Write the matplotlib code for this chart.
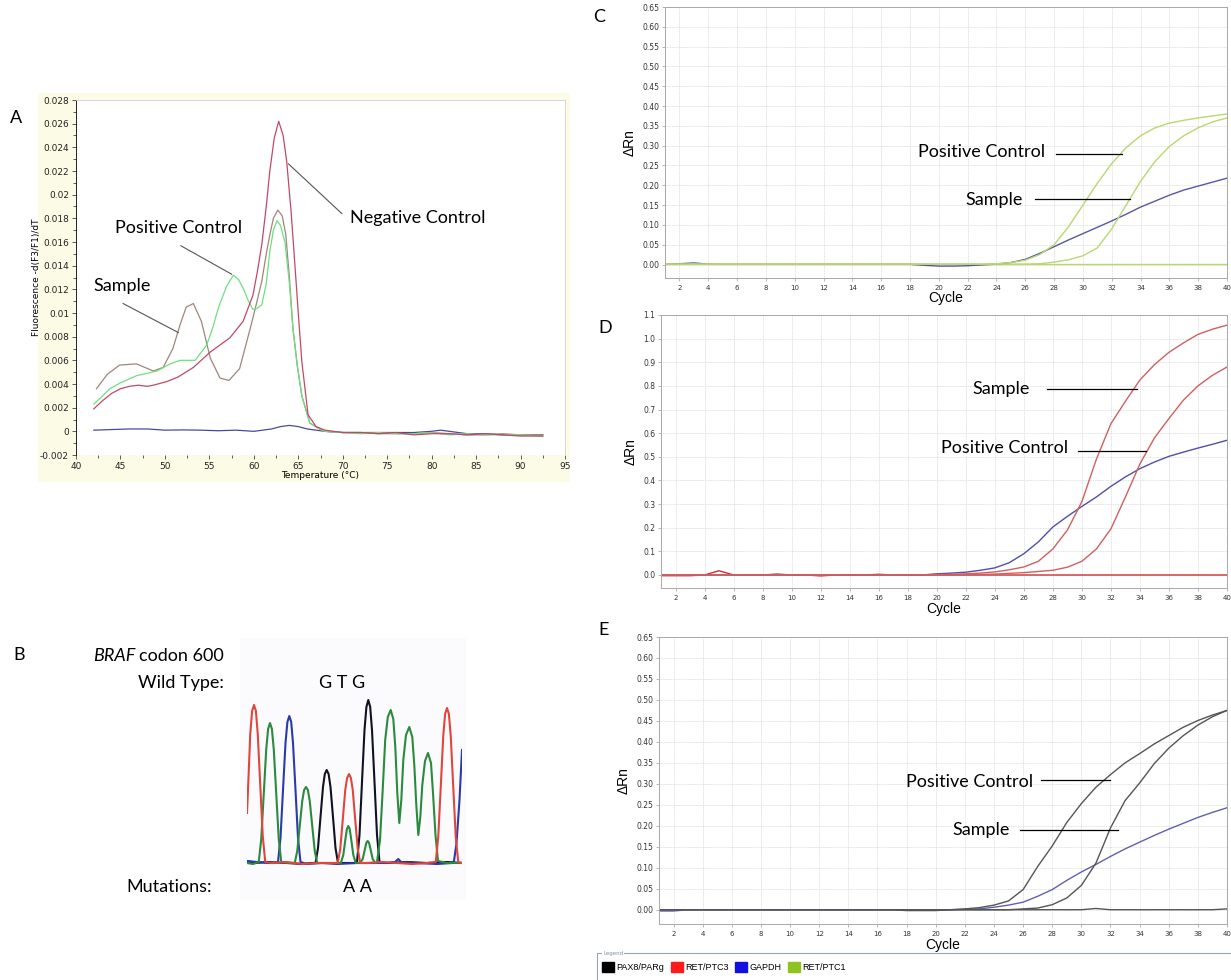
import matplotlib
matplotlib.use("Agg")
import matplotlib.pyplot as plt
import numpy as np
from matplotlib.patches import Patch, Rectangle
from matplotlib.ticker import FormatStrFormatter, MultipleLocator

# ---------------- panel A : melting curves ----------------
neg_T = [42, 43, 44, 45, 46, 47, 48, 48.7, 50.2, 51.5, 53.2, 55.1, 57.3, 58.8, 59.9, 60.4, 60.9, 61.4,
         61.8, 62.3, 62.8, 63.3, 63.7, 64.2, 64.6, 65.0, 65.4, 66.1, 67.0, 68, 70, 72, 74, 76, 78, 80,
         82, 84, 86, 88, 90, 92.5]
neg_v = [0.0019, 0.0026, 0.0032, 0.0036, 0.0038, 0.0039, 0.0038, 0.0039, 0.0042, 0.0046, 0.0054, 0.0067,
         0.0079, 0.0093, 0.0115, 0.0135, 0.0158, 0.0190, 0.0220, 0.0248, 0.0262, 0.0250, 0.0228, 0.0185,
         0.0143, 0.0100, 0.0059, 0.0014, 0.0004, 0.0001, -0.0001, -0.0001, -0.0002, -0.0001, -0.0003,
         -0.0002, -0.0002, -0.0003, -0.0002, -0.0003, -0.0004, -0.0004]

pos_T = [42, 43, 43.8, 45, 46.8, 48, 49.1, 50.6, 51.7, 53.4, 54.7, 55.4, 56.0, 56.9, 57.7, 58.3, 58.8,
         59.4, 59.9, 60.4, 60.9, 61.4, 61.8, 62.2, 62.6, 63.0, 63.5, 64.0, 64.4, 64.9, 65.4, 66.3, 67.4,
         68, 70, 72, 74, 76, 78, 80, 82, 84, 86, 88, 90, 92.5]
pos_v = [0.0023, 0.0030, 0.0036, 0.0041, 0.0047, 0.0049, 0.0051, 0.0057, 0.0060, 0.0060, 0.0073, 0.0088,
         0.0104, 0.0122, 0.0132, 0.0128, 0.0121, 0.0110, 0.0103, 0.0104, 0.0107, 0.0125, 0.0152, 0.0170,
         0.0178, 0.0174, 0.0160, 0.0125, 0.0087, 0.0055, 0.0030, 0.0007, 0.0002, 0.0000, -0.0001, -0.0002,
         -0.0001, -0.0002, -0.0002, -0.0001, -0.0003, -0.0002, -0.0003, -0.0003, -0.0003, -0.0004]

smp_T = [42.3, 43.5, 44.9, 46.8, 48.7, 49.8, 50.9, 51.7, 52.4, 53.2, 54.1, 55.1, 56.2, 57.2, 58.4, 59.6,
         60.3, 60.9, 61.4, 61.8, 62.2, 62.7, 63.2, 63.6, 64.0, 64.4, 64.9, 65.4, 66.3, 67.4, 68, 70, 72,
         74, 76, 78, 80, 82, 84, 86, 88, 90, 92.5]
smp_v = [0.0036, 0.0048, 0.0056, 0.0057, 0.0051, 0.0054, 0.0070, 0.0090, 0.0105, 0.0108, 0.0093, 0.0062,
         0.0045, 0.0043, 0.0053, 0.0087, 0.0108, 0.0127, 0.0150, 0.0166, 0.0180, 0.0187, 0.0182, 0.0166,
         0.0130, 0.0087, 0.0055, 0.0030, 0.0007, 0.0002, 0.0000, -0.0001, -0.0001, -0.0002, -0.0002,
         -0.0002, -0.0001, -0.0002, -0.0003, -0.0003, -0.0002, -0.0003, -0.0003]

blank_T = [42, 44, 46, 48, 50, 52, 54, 56, 58, 60, 62, 63, 64, 65, 66, 67, 68, 70, 72, 75, 78, 80, 81,
           82, 84, 86, 88, 90, 92.5]
blank_v = [0.0001, 0.00015, 0.0002, 0.0002, 0.0001, 0.00012, 0.0001, 0.00005, 0.0001, 0.0, 0.0002,
           0.0004, 0.0005, 0.0004, 0.0002, 0.0001, 0.0, -0.0001, -0.0001, -0.0001, -0.0001, 0.0, 0.0001,
           0.0, -0.0002, -0.0002, -0.0003, -0.0003, -0.0003]

# ---------------- panel B : sequencing trace ----------------
red_x = [0, 1, 3.25, 5.1, 7, 8.9, 10.75, 13.25, 15.75, 18.25, 25, 40, 55, 70, 85, 90.75, 93.25, 95.75,
         98.25, 100.1, 102, 103.9, 105.75, 108.25, 110.75, 113.25, 120, 135, 150, 165, 180, 188.75,
         191.25, 193.75, 196.25, 198.1, 200, 201.9, 203.75, 206.25, 208.75, 211.25, 215]
red_y = [52, 75, 131, 154, 160, 154, 131, 80, 29, 3, 2, 3, 1, 2, 2, 2, 16, 45, 75, 87, 91, 87, 75, 45, 16,
         2, 2, 3, 2, 1, 2, 3, 28, 78, 129, 151, 157, 151, 129, 78, 28, 3, 2]
green_x = [0, 6, 11.75, 14.25, 16.75, 19.25, 21.1, 23, 24.9, 26.75, 29.25, 31.75, 34.25, 40, 47.75, 50.25,
           52.75, 55.25, 57.1, 59, 60.9, 62.75, 65.25, 67.75, 70.25, 80, 93.8, 96.3, 98.3, 99.9, 101.3,
           102.7, 104.3, 106.3, 108.8, 113.2, 115.7, 117.7, 119.3, 120.7, 122.1, 123.7, 125.7, 128.2, 130,
           133, 135.7, 138.2, 140.8, 143.7, 146.3, 148.3, 150.3, 152.3, 154.3, 156.3, 159, 162.3, 165.3,
           167.3, 169.3, 171.3, 173.3, 175.3, 178, 181, 184, 186, 188.5, 191, 200, 215]
green_y = [2, 1, 3, 26, 71, 116, 136, 142, 136, 116, 71, 26, 3, 2, 2, 14, 39, 64, 75, 78, 75, 64, 39, 14,
           2, 2, 2, 10, 25, 36, 39, 36, 25, 10, 2, 2, 6, 15, 22, 24, 22, 15, 6, 2, 3, 25, 75, 125, 148,
           155, 146, 118, 72, 42, 65, 105, 130, 138, 128, 100, 60, 30, 48, 80, 104, 112, 102, 72, 30, 4,
           2, 2]
blue_x = [0, 10, 20, 27, 31, 33.5, 36, 38.5, 40.4, 42.3, 44.2, 46, 48.5, 51, 53.5, 60, 75, 90, 110, 140,
          148, 151.3, 154, 170, 190, 205, 207, 209.5, 212.5, 215]
blue_y = [4, 3, 2, 2, 3, 27, 75, 122, 143, 149, 143, 122, 75, 27, 3, 1, 2, 1, 2, 2, 3, 6, 3, 2, 1, 2, 4,
          22, 65, 115]
black_x = [0, 8, 20, 40, 55, 64, 68.5, 71, 73.5, 76, 77.8, 79.7, 81.6, 83.5, 86, 88.5, 91, 100, 107, 110,
           112.5, 115, 117.5, 119.4, 121.3, 123.2, 125, 127.5, 130, 132.5, 140, 160, 180, 200, 215]
black_y = [4, 2, 3, 2, 1, 2, 2, 17, 48, 78, 91, 95, 91, 78, 48, 17, 2, 2, 2, 3, 30, 83, 135, 158, 165,
           158, 135, 83, 30, 3, 2, 3, 2, 3, 2]

# ---------------- panels C, D, E : amplification plots ----------------
cycles = np.arange(1, 41)

c_pos = [0.001] * 22 + [0.001, 0.002, 0.005, 0.011, 0.025, 0.050, 0.095, 0.150, 0.205, 0.255, 0.295,
                        0.325, 0.345, 0.357, 0.364, 0.370, 0.375, 0.380]
c_smp = [0.001] * 26 + [0.002, 0.006, 0.012, 0.022, 0.042, 0.090, 0.150, 0.210, 0.260, 0.298, 0.325,
                        0.345, 0.360, 0.370]
c_flat = [0.001] * 40
c_gapdh = [0.0005, 0.002, 0.004, 0.001] + [0.0005] * 14 + [-0.002, -0.004, -0.004, -0.003, -0.001,
                                                            0.001, 0.005, 0.013, 0.028, 0.045, 0.062,
                                                            0.078, 0.094, 0.110, 0.127, 0.145, 0.160,
                                                            0.175, 0.188, 0.198, 0.208, 0.218]

d_smp = [0.0] * 18 + [0.001, 0.002, 0.003, 0.005, 0.008, 0.013, 0.022, 0.034, 0.058, 0.110, 0.190, 0.310,
                      0.490, 0.640, 0.735, 0.825, 0.890, 0.942, 0.982, 1.018, 1.040, 1.057]
d_pos = [0.0] * 22 + [0.002, 0.004, 0.007, 0.010, 0.015, 0.020, 0.033, 0.058, 0.110, 0.195, 0.330, 0.470,
                      0.580, 0.662, 0.740, 0.800, 0.845, 0.880]
d_flat = [-0.003, -0.003, -0.003, 0.0, 0.018, 0.0, 0.0, 0.0, 0.0, 0.0, 0.0, -0.004, 0.0, 0.0, 0.0, 0.003]\
    + [0.0] * 24
d_gapdh = [0.0] * 8 + [0.004] + [0.0] * 10 + [0.005, 0.008, 0.012, 0.020, 0.030, 0.052, 0.090, 0.140,
                                              0.203, 0.248, 0.290, 0.330, 0.375, 0.415, 0.450, 0.478,
                                              0.502, 0.520, 0.537, 0.553, 0.570]

e_pos = [0.0] * 17 + [-0.002, -0.002, -0.002, 0.0, 0.002, 0.005, 0.011, 0.021, 0.048, 0.103, 0.152,
                      0.208, 0.253, 0.292, 0.322, 0.350, 0.372, 0.395, 0.415, 0.435, 0.451, 0.464, 0.475]
e_smp = [0.0] * 25 + [0.002, 0.004, 0.012, 0.028, 0.058, 0.111, 0.195, 0.260, 0.302, 0.348, 0.385, 0.415,
                      0.440, 0.460, 0.475]
e_flat = [0.0] * 30 + [0.003] + [0.0] * 8 + [0.002]
e_gapdh = [-0.003, -0.003] + [0.0] * 19 + [0.001, 0.002, 0.006, 0.011, 0.018, 0.032, 0.048, 0.070, 0.090,
                                           0.108, 0.127, 0.145, 0.161, 0.177, 0.192, 0.206, 0.220, 0.232,
                                           0.243]

legend_labels = ["PAX8/PARg", "RET/PTC3", "GAPDH", "RET/PTC1"]
legend_colors = ["#000000", "#ff1a1a", "#1010e0", "#8fc31f"]

W, H = 1231, 980
ANN = "Lato"


def rect(left, top, right, bottom):
    return [left / W, 1 - bottom / H, (right - left) / W, (bottom - top) / H]


fig = plt.figure(figsize=(W / 100, H / 100), dpi=100)
fig.patch.set_facecolor("white")

# --- A ---
fig.patches.append(Rectangle((38 / W, 1 - 482 / H), 532 / W, 389 / H, transform=fig.transFigure,
                             facecolor="#fbfbe6", edgecolor="none", zorder=-5))
axA = fig.add_axes(rect(76, 100, 565, 455))
axA.set_zorder(2)
axA.set_facecolor("white")
axA.plot(blank_T, blank_v, color="#4a4a9a", lw=0.9)
axA.plot(smp_T, smp_v, color="#a0857a", lw=0.9)
axA.plot(pos_T, pos_v, color="#6ee07e", lw=0.9)
axA.plot(neg_T, neg_v, color="#c24868", lw=0.9)
axA.set_xlim(40, 95)
axA.set_ylim(-0.002, 0.028)
axA.xaxis.set_major_locator(MultipleLocator(5))
axA.xaxis.set_minor_locator(MultipleLocator(2.5))
axA.yaxis.set_major_locator(MultipleLocator(0.002))
axA.yaxis.set_minor_locator(MultipleLocator(0.001))
axA.yaxis.set_major_formatter(plt.FuncFormatter(lambda v, p: ("%.3f" % v).rstrip("0").rstrip(".")
                                                if abs(v) > 1e-9 else "0"))
axA.tick_params(labelsize=6.5, length=3, width=0.6, color="#444", labelcolor="#222", pad=2)
axA.tick_params(which="minor", length=2, width=0.6, color="#444")
axA.spines["bottom"].set_visible(False)
for s in ["top", "right"]:
    axA.spines[s].set_color("#d0d0d0")
    axA.spines[s].set_linewidth(0.6)
axA.spines["left"].set_linewidth(0.6)
axA.set_xlabel("Temperature (\u00b0C)", fontsize=6.5, labelpad=0)
axA.set_ylabel("Fluorescence -d(F3/F1)/dT", fontsize=6.5, labelpad=-1)

axA.text(70.8, 0.0180, "Negative Control", family=ANN, fontsize=13, va="center", ha="left")
axA.plot([63.9, 69.9], [0.0226, 0.0184], color="#555", lw=0.8)
axA.text(51.5, 0.01715, "Positive Control", family=ANN, fontsize=13, va="center", ha="center")
axA.plot([51.8, 57.5], [0.01568, 0.01328], color="#555", lw=0.8)
axA.text(45.2, 0.0123, "Sample", family=ANN, fontsize=13, va="center", ha="center")
axA.plot([45.3, 51.5], [0.0108, 0.00835], color="#555", lw=0.8)

fig.text(10 / W, 1 - 118 / H, "A", family=ANN, fontsize=13, va="center")

# --- B ---
fig.patches.append(Rectangle((240 / W, 1 - 900 / H), 226 / W, 262 / H, transform=fig.transFigure,
                             facecolor="#fbfbfe", edgecolor="none", zorder=-5))
axB = fig.add_axes(rect(247, 690, 462, 870))
axB.set_zorder(2)
axB.patch.set_alpha(0)
axB.plot(black_x, black_y, color="#111122", lw=1.5)
axB.plot(blue_x, blue_y, color="#2b3aa8", lw=1.5)
axB.plot(green_x, green_y, color="#2a8a3e", lw=1.5)
axB.plot(red_x, red_y, color="#e0463c", lw=1.5)
axB.set_xlim(0, 215)
axB.set_ylim(-5, 175)
axB.axis("off")

fig.text(13 / W, 1 - 655 / H, "B", family=ANN, fontsize=13, va="center")
codon = fig.text(224 / W, 1 - 656 / H, "codon 600", family=ANN, fontsize=13, va="center", ha="right")
renderer = fig.canvas.get_renderer()
codon_left = codon.get_window_extent(renderer).x0
fig.text((codon_left - 4) / W, 1 - 656 / H, "BRAF", family=ANN, fontsize=13, va="center", ha="right",
         style="italic")
fig.text(224 / W, 1 - 683 / H, "Wild Type:", family=ANN, fontsize=13, va="center", ha="right")
fig.text(342 / W, 1 - 683 / H, "G T G", family=ANN, fontsize=13, va="center", ha="center")
fig.text(212 / W, 1 - 887 / H, "Mutations:", family=ANN, fontsize=13, va="center", ha="right")
fig.text(357 / W, 1 - 887 / H, "A A", family=ANN, fontsize=13, va="center", ha="center")


# --- C, D, E ---
def amp_panel(box, top_v, bottom_v, step, fmt, series, letter, letter_xy, cycle_y):
    ax = fig.add_axes(rect(*box))
    for vals, col in series:
        ax.plot(cycles, vals, color=col, lw=1.0)
    ax.set_xlim(1, 40)
    ax.set_ylim(bottom_v, top_v)
    ax.xaxis.set_major_locator(MultipleLocator(2))
    ax.yaxis.set_major_locator(MultipleLocator(step))
    ax.yaxis.set_major_formatter(FormatStrFormatter(fmt))
    ax.grid(True, color="#d6d6d6", lw=0.6, ls=(0, (1, 1)))
    ax.set_axisbelow(True)
    for s in ax.spines.values():
        s.set_color("#a8a8a8")
        s.set_linewidth(0.7)
    ax.tick_params(axis="y", labelsize=5.5, length=2, width=0.5, color="#999", labelcolor="#333", pad=2)
    ax.tick_params(axis="x", labelsize=5, length=2, width=0.5, color="#999", labelcolor="#333", pad=3)
    ax.set_ylabel("\u0394Rn", family="Liberation Sans", fontsize=10, labelpad=4)
    fig.text((box[0] + box[2]) / 2 / W, 1 - cycle_y / H, "Cycle", family="Liberation Sans",
             fontsize=10, ha="center", va="center")
    fig.text(letter_xy[0] / W, 1 - letter_xy[1] / H, letter, family=ANN, fontsize=13, va="center")
    return ax


axC = amp_panel((665, 7, 1227, 278), 0.65, -0.034, 0.05, "%.2f",
                [(c_flat, "#b8d870"), (c_gapdh, "#5656a8"), (c_smp, "#b8d870"), (c_pos, "#b8d870")],
                "C", (593, 17), 298)
axC.text(27.4, 0.285, "Positive Control", family=ANN, fontsize=13, ha="right", va="center")
axC.plot([28.1, 32.7], [0.279, 0.279], color="black", lw=0.9)
axC.text(25.8, 0.163, "Sample", family=ANN, fontsize=13, ha="right", va="center")
axC.plot([26.7, 33.3], [0.165, 0.165], color="black", lw=0.9)

axD = amp_panel((661, 315, 1227, 588), 1.1, -0.055, 0.1, "%.1f",
                [(d_flat, "#d03030"), (d_gapdh, "#5050a8"), (d_pos, "#d06060"), (d_smp, "#d06060")],
                "D", (598, 328), 609)
axD.text(26.4, 0.786, "Sample", family=ANN, fontsize=13, ha="right", va="center")
axD.plot([27.6, 33.8], [0.786, 0.786], color="black", lw=0.9)
axD.text(29.05, 0.536, "Positive Control", family=ANN, fontsize=13, ha="right", va="center")
axD.plot([29.7, 34.4], [0.523, 0.523], color="black", lw=0.9)

axE = amp_panel((659, 637, 1227, 924), 0.65, -0.034, 0.05, "%.2f",
                [(e_flat, "#555555"), (e_gapdh, "#6060b0"), (e_smp, "#555555"), (e_pos, "#555555")],
                "E", (598, 630), 945)
axE.text(26.7, 0.305, "Positive Control", family=ANN, fontsize=13, ha="right", va="center")
axE.plot([27.2, 32.0], [0.31, 0.31], color="black", lw=0.9)
axE.text(25.1, 0.19, "Sample", family=ANN, fontsize=13, ha="right", va="center")
axE.plot([25.8, 32.5], [0.19, 0.19], color="black", lw=0.9)

# --- legend strip ---
fig.patches.append(Rectangle((597 / W, 1 - 990 / H), 640 / W, 37 / H, transform=fig.transFigure,
                             facecolor="white", edgecolor="#9aa4b0", lw=0.8))
fig.text(603 / W, 1 - 953 / H, "Legend", fontsize=4, color="#8090a8", va="center",
         bbox=dict(facecolor="white", edgecolor="none", pad=0.5))
handles = [Patch(facecolor=c, edgecolor=c) for c in legend_colors]
fig.legend(handles, legend_labels, loc="center left", bbox_to_anchor=(594 / W, 1 - 967 / H), ncol=4,
           frameon=False, handlelength=1.3, handleheight=1.3, handletextpad=0.3,
           columnspacing=0.7, prop={"family": "Liberation Sans", "size": 6.5})

fig.savefig("out.png", dpi=100)
